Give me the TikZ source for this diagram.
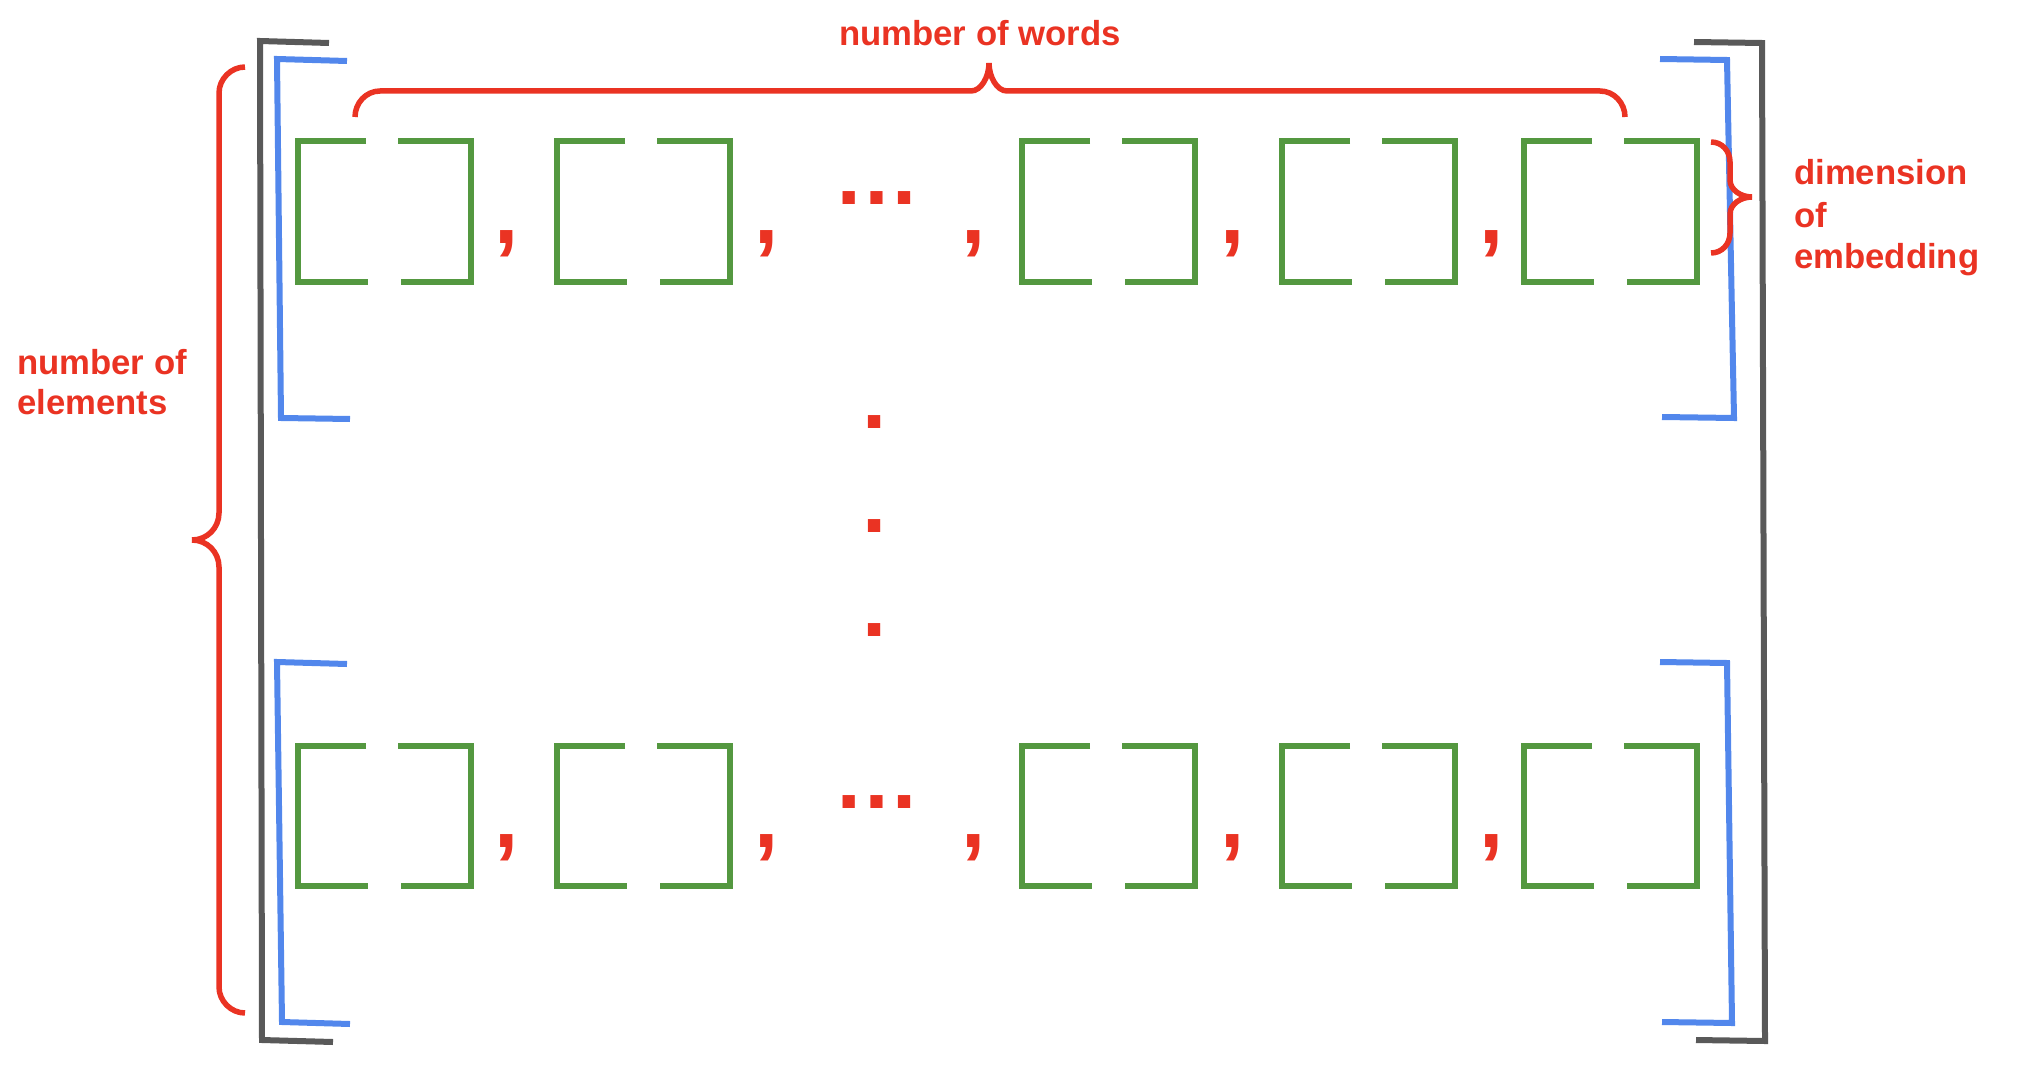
\documentclass[tikz,border=0pt]{standalone}
\usepackage{fontspec}
\setmainfont{Liberation Sans}
\definecolor{myred}{RGB}{234,51,35}
\definecolor{mygreen}{RGB}{84,152,64}
\definecolor{myblue}{RGB}{82,135,236}
\definecolor{mygray}{RGB}{89,89,89}
\tikzset{
  lbl/.style={text=myred, font=\fontsize{34.7}{41}\selectfont\bfseries, inner sep=0pt, anchor=base west},
  punct/.style={text=myred, font=\fontsize{87}{90}\selectfont\bfseries, inner sep=0pt, anchor=center},
  gbox/.style={draw=mygreen, line width=6pt, line join=miter},
  bbr/.style={draw=myblue, line width=6pt, line join=miter},
  kbr/.style={draw=mygray, line width=6pt, line join=miter},
  brace/.style={draw=myred, line width=5.5pt},
}
\begin{document}
\begin{tikzpicture}[x=1pt, y=-1pt]
\useasboundingbox (0,0) rectangle (2028,1086);

% outer gray brackets
\draw[kbr] (329,43) -- (260,41) -- (262,1040) -- (333,1042);
\draw[kbr] (1694,42) -- (1762,43) -- (1765,1041) -- (1696,1040);

% blue brackets
\draw[bbr] (347,61) -- (277,59) -- (281,418) -- (350,419);
\draw[bbr] (1660,59) -- (1727,60) -- (1734,418) -- (1662,417);
\draw[bbr] (347,664) -- (277,662) -- (282,1022) -- (350,1024);
\draw[bbr] (1660,662) -- (1727,663) -- (1732,1023) -- (1662,1022);

% green boxes
\foreach \L in {298,557,1022,1282,1524} {
  \foreach \T/\B in {141/282,746/886} {
    \draw[gbox] ({\L+68},\T) -- (\L,\T) -- (\L,\B) -- ({\L+70},\B);
    \draw[gbox] ({\L+100},\T) -- ({\L+173},\T) -- ({\L+173},\B) -- ({\L+103},\B);
  }
}

% commas
\foreach \cx [count=\i] in {507,767,973.5,1232.5,1491.5} {
  \node[punct] (ca\i) at (\cx,243.5) {,};
  \node[punct] (cb\i) at (\cx,847.5) {,};
}

% ellipses
\node[punct] (ella) at (877,198.5) {…};
\node[punct] (ellb) at (877,802.5) {…};

% vertical dots
\node[punct] (vda) at (875,422.5) {.};
\node[punct] (vdb) at (875,526.5) {.};
\node[punct] (vdc) at (875,630.5) {.};

% top brace
\draw[brace] (355,117) .. controls (355,103) and (366,91) .. (380,91) -- (971,91)
  .. controls (981,91) and (989,77) .. (989,63);
\draw[brace] (989,63) .. controls (989,77) and (997,91) .. (1007,91) -- (1600,91)
  .. controls (1614,91) and (1625,103) .. (1625,117);

% left brace
\draw[brace] (245,67) .. controls (231,67) and (219,79) .. (219,93) -- (219,513)
  .. controls (219,528) and (207,540) .. (192,540);
\draw[brace] (192,540) .. controls (207,540) and (219,552) .. (219,567) -- (219,987)
  .. controls (219,1001) and (231,1013) .. (245,1013);

% right brace
\draw[brace] (1711,142) .. controls (1722,142) and (1730,151) .. (1730,162) -- (1730,180)
  .. controls (1730,190) and (1741,197) .. (1752,197);
\draw[brace] (1752,197) .. controls (1741,197) and (1730,204) .. (1730,214) -- (1730,233)
  .. controls (1730,244) and (1722,253) .. (1711,253);

% labels
\node[lbl] (words) at (839,46) {number of words};
\node[lbl] (elema) at (17,374) {number of};
\node[lbl] (elemb) at (17,414) {elements};
\node[lbl] (dima) at (1794,185) {dimension};
\node[lbl] (dimb) at (1794,227) {of};
\node[lbl] (dimc) at (1794,268) {embedding};
\end{tikzpicture}
\end{document}
